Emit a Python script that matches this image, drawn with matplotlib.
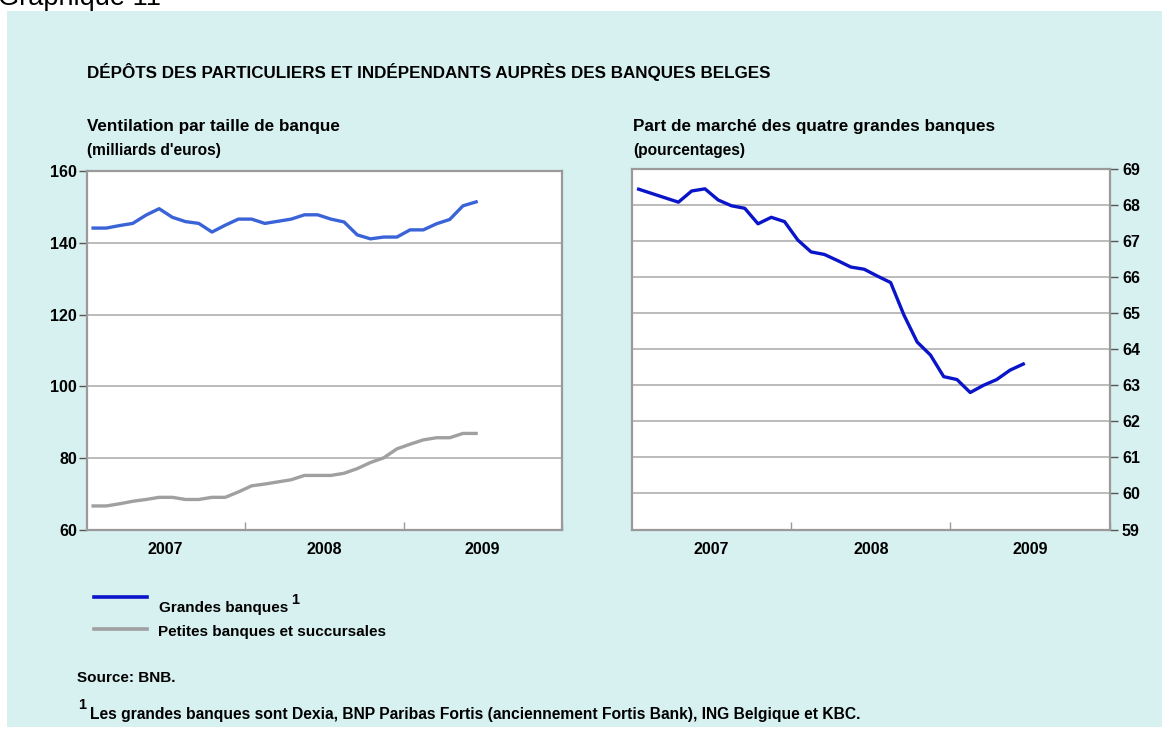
import matplotlib
matplotlib.use("Agg")
import matplotlib.pyplot as plt
from matplotlib.patches import Rectangle
from matplotlib.lines import Line2D
import numpy as np

plt.rcParams['font.family'] = ['Liberation Sans', 'DejaVu Sans']

# ---- data (monthly, Jan 2007 - Jun 2009) ----
years = ["2007", "2008", "2009"]
grandes = [144.1, 144.1, 144.8, 145.4, 147.7, 149.5, 147.1, 145.9, 145.4, 143.0,
           144.9, 146.6, 146.6, 145.4, 146.0, 146.6, 147.8, 147.8, 146.6, 145.8,
           142.2, 141.1, 141.6, 141.6, 143.6, 143.6, 145.3, 146.5, 150.3, 151.4]
petites = [66.7, 66.7, 67.3, 68.0, 68.5, 69.1, 69.1, 68.5, 68.5, 69.1,
           69.1, 70.6, 72.3, 72.8, 73.4, 74.0, 75.2, 75.2, 75.2, 75.8,
           77.1, 78.8, 80.1, 82.6, 83.9, 85.1, 85.7, 85.7, 86.9, 86.9]
part_marche = [68.44, 68.32, 68.20, 68.08, 68.39, 68.45, 68.14, 67.98, 67.91, 67.48,
               67.66, 67.54, 67.03, 66.70, 66.63, 66.46, 66.28, 66.22, 66.03, 65.85,
               64.95, 64.20, 63.84, 63.24, 63.16, 62.80, 63.00, 63.16, 63.42, 63.59]
left_yticks = [60, 80, 100, 120, 140, 160]
right_yticks = list(range(59, 70))

W, H = 1162, 733
fig = plt.figure(figsize=(W / 100, H / 100), dpi=100)
fig.patch.set_facecolor('white')

def fx(px):
    return px / W

def fy(py):
    return 1 - py / H

# cyan panel
fig.patches.append(Rectangle((fx(7), fy(727)), fx(1162) - fx(7), fy(11) - fy(727),
                             transform=fig.transFigure, facecolor='#d7f0f0',
                             edgecolor='none', zorder=-10))

fig.text(fx(-2), fy(5), "Graphique 11", fontsize=19.5, color='black',
         ha='left', va='baseline')

fig.text(fx(87), fy(72), "DÉPÔTS DES PARTICULIERS ET INDÉPENDANTS AUPRÈS DES BANQUES BELGES",
         fontsize=12.25, fontweight='bold', ha='left', va='center')

fig.text(fx(87), fy(127), "Ventilation par taille de banque", fontsize=12.3,
         fontweight='bold', ha='left', va='center')
fig.text(fx(87), fy(151), "(milliards d'euros)", fontsize=11.2, fontweight='bold',
         ha='left', va='center')
fig.text(fx(633), fy(127), "Part de marché des quatre grandes banques", fontsize=12.3,
         fontweight='bold', ha='left', va='center')
fig.text(fx(633), fy(151), "(pourcentages)", fontsize=11.2, fontweight='bold',
         ha='left', va='center')

grid_c = '#a8a8a8'
spine_c = '#9a9a9a'
n = len(grandes)
xs = np.arange(n) + 0.5

def style(ax):
    ax.set_facecolor('white')
    ax.set_xlim(0, 36)
    for s in ax.spines.values():
        s.set_color(spine_c)
        s.set_linewidth(1.6)
    ax.set_xticks([12, 24, 36])
    ax.set_xticklabels([])
    ax.set_xticks([6, 18, 30], minor=True)
    ax.set_xticklabels(years, minor=True)
    ax.tick_params(axis='x', which='major', direction='in', length=6, color=spine_c, width=1)
    ax.tick_params(axis='x', which='minor', length=0, pad=9, labelsize=11.5)
    for lab in ax.get_xticklabels(minor=True):
        lab.set_fontweight('bold')
    ax.grid(axis='y', color=grid_c, linewidth=1.1)
    ax.set_axisbelow(True)

# left axes
axL = fig.add_axes([fx(86.5), fy(530), fx(562) - fx(86.5), fy(171) - fy(530)])
style(axL)
axL.set_ylim(60, 160)
axL.set_yticks(left_yticks)
axL.tick_params(axis='y', direction='out', length=6, color='#555555', width=1,
                labelsize=11.5, pad=1)
for lab in axL.get_yticklabels():
    lab.set_fontweight('bold')
axL.plot(xs, grandes, color='#3a63d8', lw=2.4, solid_joinstyle='round', zorder=3)
axL.plot(xs, petites, color='#a0a0a0', lw=2.4, solid_joinstyle='round', zorder=3)

# right axes
axR = fig.add_axes([fx(632), fy(529.5), fx(1109.5) - fx(632), fy(169) - fy(529.5)])
style(axR)
axR.set_ylim(59, 69)
axR.set_yticks(right_yticks)
axR.yaxis.tick_right()
axR.tick_params(axis='y', direction='out', length=6, color='#555555', width=1,
                labelsize=11.5, pad=3)
for lab in axR.get_yticklabels():
    lab.set_fontweight('bold')
axR.plot(xs, part_marche, color='#0a14c8', lw=2.4, solid_joinstyle='round', zorder=3)

# legend (manual)
fig.lines.append(Line2D([fx(94), fx(147)], [fy(597), fy(597)], transform=fig.transFigure,
                        color='#0a14c8', lw=2.6))
fig.lines.append(Line2D([fx(94), fx(147)], [fy(629), fy(629)], transform=fig.transFigure,
                        color='#a0a0a0', lw=2.6))
fig.text(fx(159), fy(608), "Grandes banques", fontsize=11.0, fontweight='bold',
         ha='left', va='center')
fig.text(fx(291), fy(600), "1", fontsize=10.5, fontweight='bold', ha='left', va='center')
fig.text(fx(158), fy(632), "Petites banques et succursales", fontsize=11.0,
         fontweight='bold', ha='left', va='center')

fig.text(fx(77), fy(678), "Source: BNB.", fontsize=11.0, fontweight='bold',
         ha='left', va='center')
fig.text(fx(78), fy(705), "1", fontsize=10.5, fontweight='bold', ha='left', va='center')
fig.text(fx(90), fy(714), "Les grandes banques sont Dexia, BNP Paribas Fortis (anciennement Fortis Bank), ING Belgique et KBC.",
         fontsize=11.25, fontweight='bold', ha='left', va='center')

fig.savefig("out.png", dpi=100, facecolor=fig.get_facecolor())
